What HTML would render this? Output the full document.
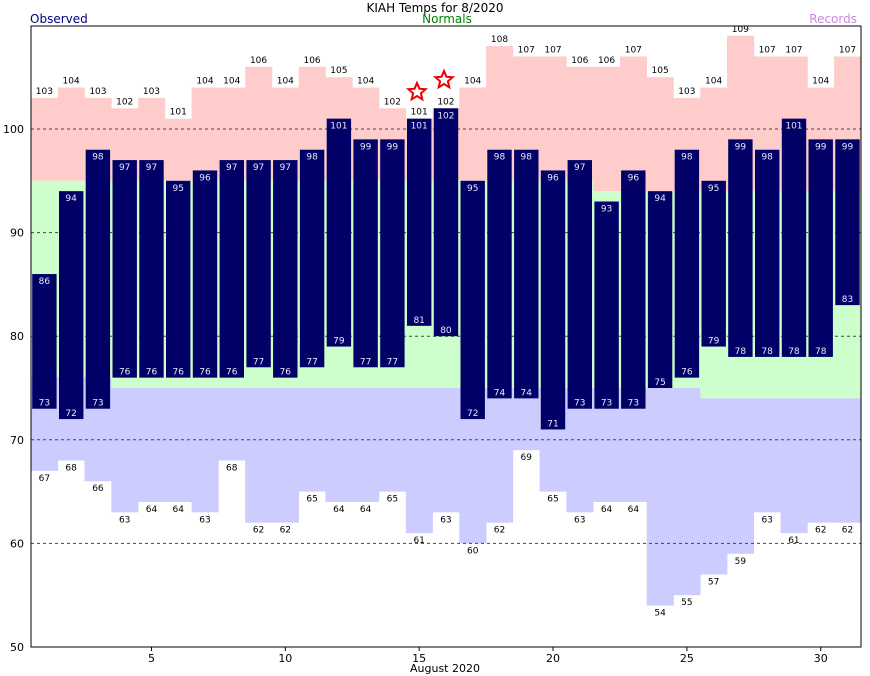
<!DOCTYPE html>
<html><head><meta charset="utf-8"><style>
body{margin:0;background:#fff;}
svg{display:block;font-family:"DejaVu Sans","Liberation Sans",sans-serif;}
</style></head><body>
<svg id="c" width="870" height="676" xmlns="http://www.w3.org/2000/svg">
<rect width="870" height="676" fill="#fff"/>
<g id="g"></g>
<text x="435" y="12" font-size="12" text-anchor="middle" fill="#000">KIAH Temps for 8/2020</text>
<text x="30" y="23" font-size="12" fill="#000080">Observed</text>
<text x="447" y="23" font-size="12" text-anchor="middle" fill="#008000">Normals</text>
<text x="857" y="23" font-size="12" text-anchor="end" fill="#cc88dd">Records</text>
<text x="445" y="672" font-size="11" text-anchor="middle">August 2020</text>
</svg>
<script>
var rh=[103,104,103,102,103,101,104,104,106,104,106,105,104,102,101,102,104,108,107,107,106,106,107,105,103,104,109,107,107,104,107];
var oh=[86,94,98,97,97,95,96,97,97,97,98,101,99,99,101,102,95,98,98,96,97,93,96,94,98,95,99,98,101,99,99];
var ol=[73,72,73,76,76,76,76,76,77,76,77,79,77,77,81,80,72,74,74,71,73,73,73,75,76,79,78,78,78,78,83];
var rl=[67,68,66,63,64,64,63,68,62,62,65,64,64,65,61,63,60,62,69,65,63,64,64,54,55,57,59,63,61,62,62];
function y(v){return 647-(v-50)*10.36;}
var W=26.77,s='';
for(var i=0;i<31;i++){
 var x=31+i*W, nh=i<21?95:94, nl=i<3?76:(i<25?75:74);
 var x0=x.toFixed(1), w=(W+0.3).toFixed(1);
 s+='<rect x="'+x0+'" y="'+y(rh[i])+'" width="'+w+'" height="'+(y(nh)-y(rh[i]))+'" fill="#ffcccc"/>';
 s+='<rect x="'+x0+'" y="'+y(nh)+'" width="'+w+'" height="'+(y(nl)-y(nh))+'" fill="#ccffcc"/>';
 s+='<rect x="'+x0+'" y="'+y(nl)+'" width="'+w+'" height="'+(y(rl[i])-y(nl))+'" fill="#ccccff"/>';
}
for(var v=60;v<=100;v+=10) s+='<line x1="31" x2="861" y1="'+y(v)+'" y2="'+y(v)+'" stroke="#444" stroke-dasharray="3,3"/>';
for(var i=0;i<31;i++){
 var x=31+i*W, c=x+W/2;
 s+='<rect x="'+(x+1.2).toFixed(1)+'" y="'+y(oh[i])+'" width="'+(W-2.4).toFixed(1)+'" height="'+(y(ol[i])-y(oh[i]))+'" fill="#000066"/>';
 s+='<text x="'+c+'" y="'+(y(rh[i])-4)+'" font-size="9" text-anchor="middle">'+rh[i]+'</text>';
 s+='<text x="'+c+'" y="'+(y(oh[i])+10)+'" font-size="9" text-anchor="middle" fill="#e8e8ff">'+oh[i]+'</text>';
 s+='<text x="'+c+'" y="'+(y(ol[i])-3)+'" font-size="9" text-anchor="middle" fill="#e8e8ff">'+ol[i]+'</text>';
 s+='<text x="'+c+'" y="'+(y(rl[i])+10)+'" font-size="9" text-anchor="middle">'+rl[i]+'</text>';
}
function star(cx,cy,r){var p=[];for(var k=0;k<10;k++){var a=-Math.PI/2+k*Math.PI/5,rr=k%2?r*0.45:r;p.push((cx+rr*Math.cos(a)).toFixed(1)+','+(cy+rr*Math.sin(a)).toFixed(1));}return '<polygon points="'+p.join(' ')+'" fill="#fff" stroke="#ee0000" stroke-width="2"/>';}
s+=star(417,92,9)+star(444,80,9);
s+='<rect x="31" y="26" width="830" height="621" fill="none" stroke="#000"/>';
for(var v=50;v<=100;v+=10) s+='<text x="24" y="'+(y(v)+4)+'" font-size="11" text-anchor="end">'+v+'</text>';
for(var d=5;d<=30;d+=5){var tx=31+(d-0.5)*W;s+='<line x1="'+tx+'" x2="'+tx+'" y1="647" y2="651" stroke="#000"/><text x="'+tx+'" y="662" font-size="11" text-anchor="middle">'+d+'</text>';}
document.getElementById('g').innerHTML=s;
</script>
</body></html>
